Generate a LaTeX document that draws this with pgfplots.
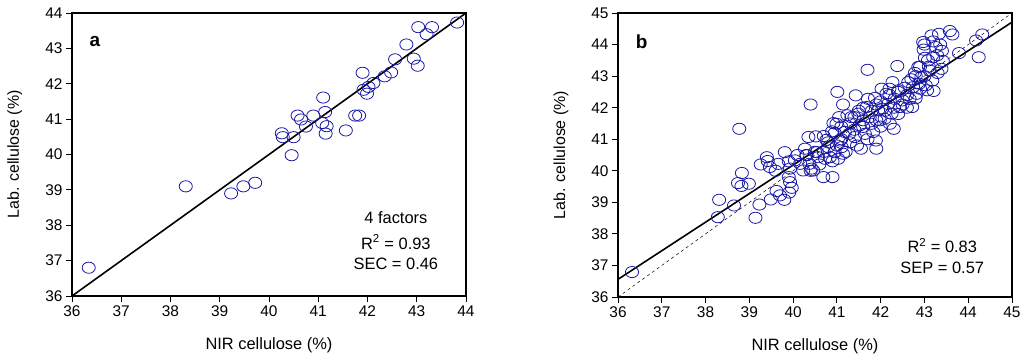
\documentclass[border=0pt]{standalone}
\usepackage{pgfplots}
\pgfplotsset{compat=1.18}
\usepackage{fontspec}
\setmainfont{Liberation Sans}
\definecolor{navy}{RGB}{25,25,165}
\tikzset{ann/.style={font=\fontsize{16.5}{19}\selectfont}}
\pgfplotsset{
  panel/.style={
    scale only axis, width=394bp,
    axis line style={line width=1.1bp},
    tick style={black, line width=0.9bp},
    tick align=outside, major tick length=6bp,
    xtick pos=bottom, ytick pos=left,
    tick label style={font=\fontsize{15.5}{18}\selectfont},
    /pgf/number format/assume math mode=true,
    xlabel={NIR cellulose (\%)}, ylabel={Lab. cellulose (\%)},
    xlabel style={at={(axis description cs:0.5,-0.173)},anchor=center,font=\fontsize{16.5}{19}\selectfont},
    ylabel style={at={(axis description cs:-0.145,0.5)},rotate=0,anchor=center,font=\fontsize{16}{19}\selectfont},
  },
  pts/.style={only marks, mark=o, mark size=5.6bp, mark options={xscale=1.17, draw=navy, line width=0.8bp}},
}
\begin{document}
\begin{tikzpicture}
\useasboundingbox (-72bp,-65bp) rectangle (956bp,296bp);
\begin{axis}[panel, height=283bp, at={(0bp,0bp)}, anchor=south west,
  xmin=36, xmax=44, ymin=36, ymax=44, xtick={36,...,44}, ytick={36,...,44}]
\addplot[pts] coordinates {
(36.34,36.8)(38.31,39.1)(39.23,38.9)(39.48,39.1)(39.72,39.2)
(40.26,40.6)(40.28,40.49)(40.50,40.49)(40.46,39.98)(40.58,41.1)
(40.65,40.99)(40.75,40.79)(40.90,41.1)(41.10,41.61)(41.14,41.2)
(41.08,40.89)(41.17,40.8)(41.15,40.59)(41.56,40.68)(41.75,41.1)
(41.83,41.1)(41.90,42.31)(41.92,41.83)(41.99,41.72)(42.02,41.91)
(42.12,42.02)(42.35,42.21)(42.48,42.32)(42.56,42.69)(42.79,43.11)
(42.94,42.71)(43.02,42.51)(43.03,43.60)(43.20,43.40)(43.31,43.60)
(43.82,43.73)
};
\addplot[line width=1.6bp] coordinates {(36,36)(44,44)};
\node[font=\fontsize{19}{22}\selectfont\bfseries] at (rel axis cs:0.058,0.898) {a};
\node[ann] at (rel axis cs:0.822,0.276) {4 factors};
\node[ann] at (rel axis cs:0.822,0.191) {R\textsuperscript{2} = 0.93};
\node[ann] at (rel axis cs:0.822,0.113) {SEC = 0.46};
\end{axis}
\begin{axis}[panel, height=284bp, at={(546bp,-1bp)}, anchor=south west,
  xmin=36, xmax=45, ymin=36, ymax=45, xtick={36,...,45}, ytick={36,...,45}]
\addplot[pts] coordinates {
(36.32,36.79)(38.28,38.53)(38.31,39.08)(38.65,38.90)(38.77,41.33)
(38.74,39.61)(38.82,39.52)(38.83,39.93)(38.99,39.59)(39.14,38.51)
(39.23,38.93)(39.26,40.20)(39.40,40.43)(39.42,40.31)(39.47,40.12)
(39.49,39.09)(39.62,39.36)(39.66,40.22)(39.70,39.22)(39.80,39.08)
(39.81,40.59)(39.90,39.80)(39.93,39.64)(39.97,39.46)(39.91,39.31)
(39.93,40.07)(40.04,40.33)(40.16,40.22)(40.23,40.01)(40.27,40.70)
(40.31,40.49)(40.37,40.22)(40.40,42.10)(40.35,41.07)(40.42,40.07)
(40.46,40.01)(40.52,41.09)(40.54,40.59)(40.57,40.43)(40.69,39.80)
(40.73,40.38)(40.76,40.98)(40.80,40.75)(40.84,40.43)(40.89,41.25)
(40.90,39.80)(40.92,41.51)(40.95,40.59)(40.99,41.49)(41.01,42.50)
(41.03,40.38)(41.05,41.70)(41.07,40.96)(41.11,40.75)(41.14,42.10)
(41.14,40.54)(41.18,41.23)(41.24,41.76)(41.28,41.17)(41.33,41.70)
(41.41,41.07)(41.43,42.39)(41.46,40.80)(41.49,41.81)(41.52,41.44)
(41.55,40.70)(41.60,41.39)(41.64,41.17)(41.70,43.20)(41.68,42.02)
(41.71,42.28)(41.75,41.70)(41.79,41.49)(41.83,41.23)(41.87,42.31)
(41.89,40.96)(41.90,40.70)(41.94,41.92)(41.98,41.60)(42.02,42.60)
(42.04,41.97)(42.09,41.65)(42.13,42.44)(42.17,42.12)(42.21,41.49)
(42.25,41.81)(42.27,42.81)(42.30,41.33)(42.32,42.28)(42.38,43.32)
(42.40,42.55)(42.44,42.02)(42.50,42.23)(42.55,42.63)(42.63,42.81)
(42.66,42.28)(42.72,42.02)(42.74,42.65)(42.78,43.10)(42.82,42.44)
(42.86,43.29)(42.88,42.76)(42.93,42.97)(42.97,44.08)(42.98,43.84)
(43.01,43.58)(43.03,42.71)(43.06,42.55)(43.08,43.50)(43.12,43.18)
(43.16,44.29)(43.18,42.86)(43.21,42.53)(43.26,43.92)(43.29,43.66)
(43.33,44.34)(43.36,44.00)(43.39,43.23)(43.42,43.48)(43.58,44.43)
(43.64,44.32)(43.79,43.73)(44.18,44.13)(44.32,44.32)(44.24,43.60)
(40.6,40.2)(40.7,40.6)(40.8,40.9)(40.9,40.3)(41.0,40.8)
(41.1,41.4)(41.2,40.6)(41.3,41.5)(41.4,41.3)(41.5,41.9)
(41.6,41.6)(41.7,41.0)(41.8,41.9)(41.9,41.6)(42.0,42.2)
(42.0,41.4)(42.1,41.9)(42.2,42.4)(42.3,42.0)(42.4,42.5)
(42.5,42.1)(42.6,42.4)(42.7,42.9)(42.8,42.3)(42.9,42.6)
(43.0,43.0)(43.1,43.3)(43.2,43.6)(43.3,43.1)(43.4,43.8)
(42.9,43.3)(43.0,44.0)(43.2,44.1)(40.3,40.5)(40.4,40.0)
(40.5,40.6)(41.4,41.7)(41.6,42.0)(41.9,42.1)(42.2,42.6)
(42.4,41.8)(42.6,42.0)(41.1,41.0)(41.3,40.9)(40.7,41.1)
(40.95,41.2)(39.6,40.0)(39.9,40.3)(40.1,40.5)(42.8,43.0)
};
\addplot[dashed, line width=0.5bp] coordinates {(36,36)(45,45)};
\addplot[line width=1.6bp] coordinates {(36,36.56)(45,44.71)};
\node[font=\fontsize{19}{22}\selectfont\bfseries] at (rel axis cs:0.06,0.9) {b};
\node[ann] at (rel axis cs:0.823,0.18) {R\textsuperscript{2} = 0.83};
\node[ann] at (rel axis cs:0.823,0.103) {SEP = 0.57};
\end{axis}
\end{tikzpicture}
\end{document}
